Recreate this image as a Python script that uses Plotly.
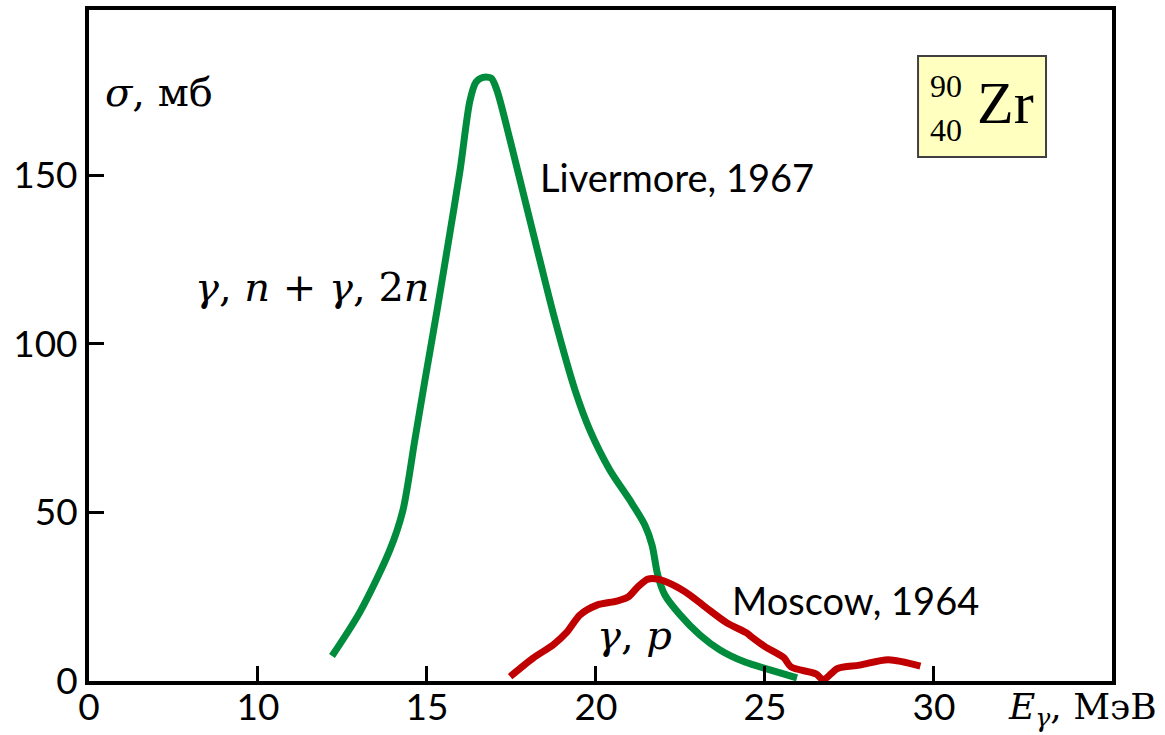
import plotly.graph_objects as go

# Livermore, 1967 (gamma,n + gamma,2n)
liv_e = [12.19, 13.02, 13.9, 14.29, 14.64, 14.94, 15.3, 15.62, 15.98, 16.27, 16.45, 16.66, 16.9, 17.07,
         17.46, 17.9, 18.34, 18.79, 19.38, 19.82, 20.41, 21.0, 21.45, 21.66, 21.83, 22.04, 22.49, 23.08,
         23.67, 24.41, 25.15, 25.95]
liv_s = [7.4, 20.5, 38.8, 50.7, 71.4, 89.2, 110, 129.3, 151.5, 172, 177.6, 179, 178.8, 175.2,
         160.4, 142.6, 124.8, 107, 86.3, 74.4, 62.6, 53.7, 46.2, 40.3, 31.4, 25.5, 19.6, 13.6,
         9.2, 5.6, 3.3, 0.9]

# Moscow, 1964 (gamma,p)
mos_e = [17.46, 18.14, 18.73, 19.14, 19.53, 20.03, 20.62, 20.95, 21.24, 21.54, 21.83, 22.28, 22.78,
         23.28, 23.88, 24.47, 24.59, 25.0, 25.56, 25.77, 26.51, 26.73, 27.15, 27.8, 28.65, 29.6]
mos_s = [1.3, 6.8, 10.7, 14.5, 19.6, 22.5, 23.7, 24.9, 27.9, 30.2, 30.2, 28.5, 25.5,
         21.6, 17.2, 14.2, 13.2, 10.2, 6.9, 4.2, 2.1, 0.4, 3.7, 4.7, 6.3, 4.4]

x_tickvals = [5, 10, 15, 20, 25, 30]
x_ticktext = ["0", "10", "15", "20", "25", "30"]
y_tickvals = [0, 50, 100, 150]
y_ticktext = ["0", "50", "100", "150"]

fig = go.Figure()
fig.add_trace(go.Scatter(x=liv_e, y=liv_s, mode="lines", line=dict(color="#008C3C", width=7, shape="spline", smoothing=0.8),
                         showlegend=False, cliponaxis=False))
fig.add_trace(go.Scatter(x=mos_e, y=mos_s, mode="lines", line=dict(color="#C00000", width=7, shape="spline", smoothing=0.8),
                         showlegend=False, cliponaxis=False))

tickfont = dict(family="Lato", size=37, color="black")
fig.update_xaxes(range=[5, 35.27], tickvals=x_tickvals, ticktext=x_ticktext, ticks="inside", ticklen=15,
                 tickwidth=3, tickcolor="black", showline=True, linewidth=4, linecolor="black", mirror=True,
                 showgrid=False, zeroline=False, tickfont=tickfont, automargin=False, ticklabelstandoff=-9)
fig.update_yaxes(range=[0, 199], tickvals=y_tickvals, ticktext=y_ticktext, ticks="inside", ticklen=15,
                 tickwidth=3, tickcolor="black", showline=True, linewidth=4, linecolor="black", mirror=True,
                 showgrid=False, zeroline=False, tickfont=tickfont, automargin=False)

serif = "DejaVu Serif"
ann = []
ann.append(dict(x=0.4389, y=0.751, text="Livermore, 1967", font=dict(family="Lato", size=38, color="black"),
                xanchor="left", yanchor="middle"))
ann.append(dict(x=0.6266, y=0.1207, text="Moscow, 1964", font=dict(family="Lato", size=38, color="black"),
                xanchor="left", yanchor="middle"))
ann.append(dict(x=0.1017, y=0.587, text="<i>γ</i>, <i>n</i> + <i>γ</i>, 2<i>n</i>",
                font=dict(family=serif, size=40, color="black"), xanchor="left", yanchor="middle"))
ann.append(dict(x=0.0137, y=0.878, text="<i>σ</i>, мб",
                font=dict(family=serif, size=40, color="black"), xanchor="left", yanchor="middle"))
ann.append(dict(x=0.4946, y=0.0686, text="<i>γ</i>, <i>p</i>",
                font=dict(family=serif, size=40, color="black"), xanchor="left", yanchor="middle"))
ann.append(dict(x=0.896, y=-0.042, text="<i>E</i><sub><i>γ</i></sub>, МэВ",
                font=dict(family=serif, size=36, color="black"), xanchor="left", yanchor="middle"))
# Zr nuclide box
ann.append(dict(x=0.866, y=0.861, text="Zr", font=dict(family="Liberation Serif", size=60, color="black"),
                xanchor="left", yanchor="middle"))
ann.append(dict(x=0.8377, y=0.8867, text="90", font=dict(family="Liberation Serif", size=32, color="black"),
                xanchor="center", yanchor="middle"))
ann.append(dict(x=0.8377, y=0.8212, text="40", font=dict(family="Liberation Serif", size=32, color="black"),
                xanchor="center", yanchor="middle"))
for a in ann:
    a.update(xref="paper", yref="paper", showarrow=False)

fig.update_layout(
    width=1165, height=735,
    margin=dict(l=89, r=53, t=10, b=54),
    paper_bgcolor="white", plot_bgcolor="white",
    annotations=ann,
    shapes=[dict(type="rect", xref="paper", yref="paper", x0=0.8104, x1=0.9355, y0=0.781, y1=0.9314,
                 fillcolor="#FFFFC0", line=dict(color="#404040", width=2), layer="below")],
)

fig.write_html("out.html")
